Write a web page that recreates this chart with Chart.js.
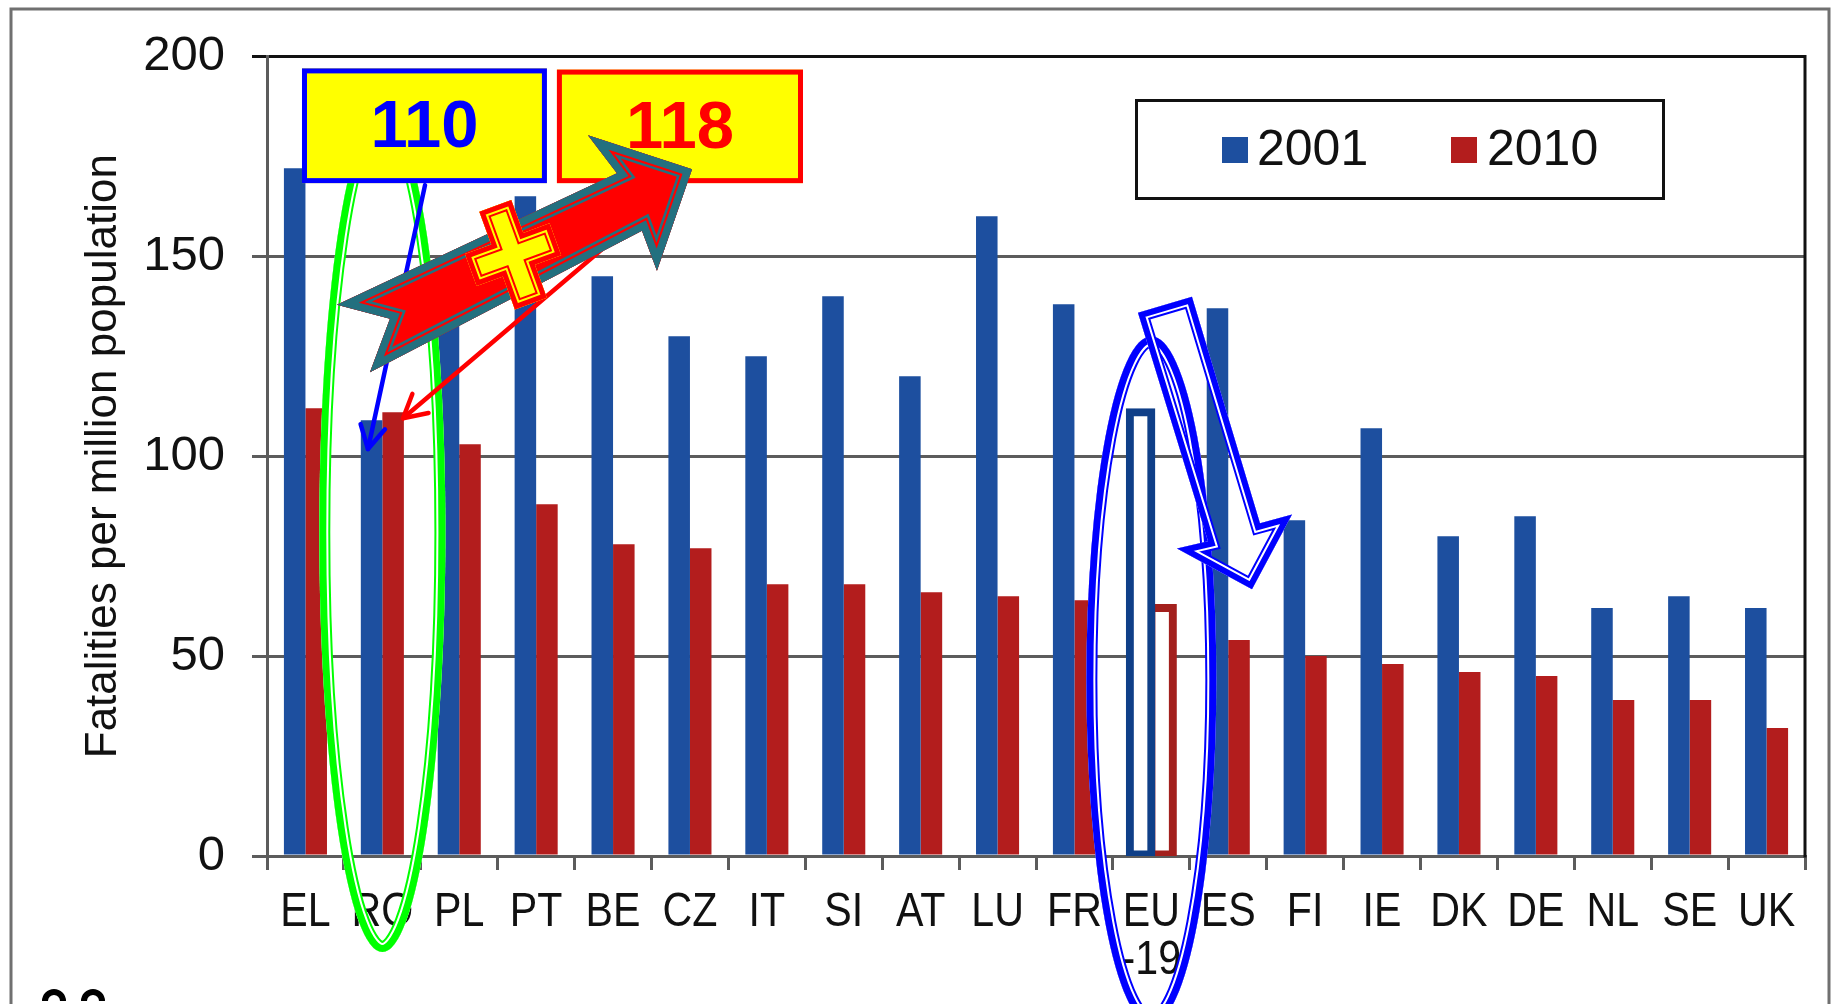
<!DOCTYPE html>
<html lang="en">
<head>
<meta charset="UTF-8">
<title>Fatalities per million population, 2001 and 2010</title>
<script src="https://cdn.jsdelivr.net/npm/chart.js"></script>
<style>
  html, body { margin: 0; padding: 0; background: #ffffff; }
  canvas { display: block; }
</style>
</head>
<body>
<canvas id="fatalitiesChart" width="1834" height="1004"></canvas>
<script>
// data
const countries = ['EL', 'RO', 'PL', 'PT', 'BE', 'CZ', 'IT', 'SI', 'AT', 'LU', 'FR', ['EU', '-19'], 'ES', 'FI', 'IE', 'DK', 'DE', 'NL', 'SE', 'UK'];
const fatalities2001 = [172, 109, 143, 165, 145, 130, 125, 140, 120, 160, 138, 111, 137, 84, 107, 80, 85, 62, 65, 62];
const fatalities2010 = [112, 111, 103, 88, 78, 77, 68, 68, 66, 65, 64, 62, 54, 50, 48, 46, 45, 39, 39, 32];
const seriesLabels = ['2001', '2010'];
const yTicks = [0, 50, 100, 150, 200];
const euIndex = 11;

// hand-drawn overlay, positions given as [category index, value]
const callouts = [
    { text: '110', from: [-0.045, 197], to: [3.14, 168.3], color: '#0000ff' },
    { text: '118', from: [3.27, 196.7], to: [6.47, 168.3], color: '#ff0000' }
];
const greenRing = { center: [1.0, 81], rx: 0.82, ry: 105 };
const blueRing = { center: [11.0, 44], rx: 0.845, ry: 86 };
const thinArrows = [
    { from: [1.555, 167.8], to: [0.813, 101.8], color: '#0000ff' },
    { from: [4.61, 164.1], to: [1.269, 109.5], color: '#ff0000' }
];
const bigArrow = [[0.41, 137.9], [4.051, 170.8], [3.674, 180.3], [5.027, 171.8], [4.571, 146.4], [4.376, 156.4], [0.839, 121.0], [1.099, 134.4]];
const plusAt = [2.70, 150.4];
const hollowArrow = [[10.826, 135.9], [11.528, 139.9], [12.413, 83.2], [12.829, 85.4], [12.309, 66.7], [11.333, 76.9], [11.737, 78.7]];

const BLUE = '#1d4f9f';
const RED = '#b31d1d';
const NAVY = '#0f3f88';
const DARKRED = '#a3201d';
const GRID = '#5c5c5c';
const SANS = "'Liberation Sans', Arial, Helvetica, sans-serif";

const isEU = c => c.dataIndex === euIndex;

// fills a shape and draws its outline as layered bands kept inside the shape
function layered(ctx, buildPath, fill, bands) {
    ctx.save();
    buildPath();
    if (fill) { ctx.fillStyle = fill; ctx.fill(); }
    ctx.clip();
    bands.forEach(([color, width]) => {
        buildPath();
        ctx.strokeStyle = color;
        ctx.lineWidth = width;
        ctx.lineJoin = 'miter';
        ctx.stroke();
    });
    ctx.restore();
}

function thinArrow(ctx, p0, p1, color) {
    ctx.save();
    ctx.strokeStyle = color;
    ctx.lineWidth = 4.5;
    ctx.lineCap = 'round';
    ctx.lineJoin = 'round';
    ctx.beginPath();
    ctx.moveTo(p0[0], p0[1]);
    ctx.lineTo(p1[0], p1[1]);
    ctx.stroke();
    const ang = Math.atan2(p1[1] - p0[1], p1[0] - p0[0]);
    const len = 26;
    ctx.beginPath();
    ctx.moveTo(p1[0] - len * Math.cos(ang - 0.5), p1[1] - len * Math.sin(ang - 0.5));
    ctx.lineTo(p1[0], p1[1]);
    ctx.lineTo(p1[0] - len * Math.cos(ang + 0.5), p1[1] - len * Math.sin(ang + 0.5));
    ctx.stroke();
    ctx.restore();
}

// category labels in a narrow face (squeezed horizontally like the original)
const narrowLabels = {
    id: 'narrowLabels',
    afterDatasetsDraw(chart) {
        const { ctx, chartArea: a, scales: { x } } = chart;
        ctx.save();
        ctx.fillStyle = '#111';
        ctx.font = '49px ' + SANS;
        ctx.textAlign = 'center';
        ctx.textBaseline = 'middle';
        chart.data.labels.forEach((lab, i) => {
            const lines = Array.isArray(lab) ? lab : [lab];
            const cx = x.getPixelForTick(i);
            lines.forEach((line, j) => {
                ctx.save();
                ctx.translate(cx, a.bottom + 56 + j * 48);
                ctx.scale(0.84, 1);
                ctx.fillText(line, 0, 0);
                ctx.restore();
            });
        });
        ctx.restore();
    }
};

const overlay = {
    id: 'overlay',
    afterDraw(chart) {
        const { ctx, chartArea: a, scales: { x, y } } = chart;
        const P = p => [x.getPixelForValue(p[0]), y.getPixelForValue(p[1])];
        const cw = x.getPixelForValue(1) - x.getPixelForValue(0);
        const uh = y.getPixelForValue(0) - y.getPixelForValue(1);

        ctx.save();
        // plot border on the right
        ctx.strokeStyle = '#111';
        ctx.lineWidth = 3;
        ctx.beginPath();
        ctx.moveTo(a.right, a.top - 1.5);
        ctx.lineTo(a.right, a.bottom + 1.5);
        ctx.stroke();

        // legend
        ctx.fillStyle = '#fff';
        ctx.fillRect(1135, 99, 530, 101);
        ctx.strokeStyle = '#111';
        ctx.lineWidth = 3;
        ctx.strokeRect(1136.5, 100.5, 527, 98);
        ctx.font = '50px ' + SANS;
        ctx.textBaseline = 'alphabetic';
        ctx.textAlign = 'left';
        [[BLUE, 1222, 1257], [RED, 1451, 1487]].forEach(([col, sx, tx], i) => {
            ctx.fillStyle = col;
            ctx.fillRect(sx, 137, 26, 26);
            ctx.fillStyle = '#111';
            ctx.fillText(chart.data.datasets[i].label, tx, 165);
        });

        // rings
        [[greenRing, '#00ff00'], [blueRing, '#0000ff']].forEach(([r, col]) => {
            const c = P(r.center);
            layered(ctx, () => {
                ctx.beginPath();
                ctx.ellipse(c[0], c[1], r.rx * cw, r.ry * uh, 0, 0, Math.PI * 2);
            }, null, [[col, 22], ['#ffffff', 18], [col, 14]]);
        });

        // yellow callout boxes
        callouts.forEach(b => {
            const p0 = P(b.from), p1 = P(b.to);
            ctx.fillStyle = '#ffff00';
            ctx.fillRect(p0[0], p0[1], p1[0] - p0[0], p1[1] - p0[1]);
            ctx.strokeStyle = b.color;
            ctx.lineWidth = 5;
            ctx.strokeRect(p0[0] + 2.5, p0[1] + 2.5, p1[0] - p0[0] - 5, p1[1] - p0[1] - 5);
            ctx.fillStyle = b.color;
            ctx.font = 'bold 67px ' + SANS;
            ctx.textAlign = 'center';
            ctx.textBaseline = 'middle';
            ctx.fillText(b.text, (p0[0] + p1[0]) / 2, (p0[1] + p1[1]) / 2 + 3);
        });

        thinArrows.forEach(t => thinArrow(ctx, P(t.from), P(t.to), t.color));

        // big notched red arrow
        const pts = bigArrow.map(P);
        layered(ctx, () => {
            ctx.beginPath();
            pts.forEach((p, i) => i ? ctx.lineTo(p[0], p[1]) : ctx.moveTo(p[0], p[1]));
            ctx.closePath();
        }, '#ff0000', [['#23707f', 24], ['#ff0000', 19], ['#23707f', 15]]);

        // yellow plus on the arrow
        const pc = P(plusAt);
        ctx.save();
        ctx.translate(pc[0], pc[1]);
        ctx.rotate(-20 * Math.PI / 180);
        const W = 17, LV = 52, LH = 45;
        const plus = [[-W, -LV], [W, -LV], [W, -W], [LH, -W], [LH, W], [W, W], [W, LV], [-W, LV], [-W, W], [-LH, W], [-LH, -W], [-W, -W]];
        layered(ctx, () => {
            ctx.beginPath();
            plus.forEach((p, i) => i ? ctx.lineTo(p[0], p[1]) : ctx.moveTo(p[0], p[1]));
            ctx.closePath();
        }, '#ffff00', [['#ff0000', 18], ['#ffff00', 14], ['#ff0000', 10]]);
        ctx.restore();

        // hollow blue arrow
        const hp = hollowArrow.map(P);
        layered(ctx, () => {
            ctx.beginPath();
            hp.forEach((p, i) => i ? ctx.lineTo(p[0], p[1]) : ctx.moveTo(p[0], p[1]));
            ctx.closePath();
        }, null, [['#0000ff', 20], ['#ffffff', 16], ['#0000ff', 12]]);

        // outer frame of the picture
        ctx.strokeStyle = '#707070';
        ctx.lineWidth = 3;
        ctx.beginPath();
        ctx.moveTo(11, 1004);
        ctx.lineTo(11, 9);
        ctx.lineTo(1829, 9);
        ctx.lineTo(1829, 1004);
        ctx.stroke();

        // cut-off marks at the bottom left
        ctx.strokeStyle = '#000';
        ctx.lineWidth = 6;
        [54, 93].forEach(cx => {
            ctx.beginPath();
            ctx.arc(cx, 1001, 9, Math.PI, Math.PI * 2);
            ctx.stroke();
        });
        ctx.restore();
    }
};

new Chart(document.getElementById('fatalitiesChart').getContext('2d'), {
    type: 'bar',
    data: {
        labels: countries,
        datasets: [
            {
                label: seriesLabels[0],
                data: fatalities2001,
                backgroundColor: c => isEU(c) ? '#ffffff' : BLUE,
                borderColor: c => isEU(c) ? NAVY : BLUE,
                borderWidth: c => isEU(c) ? 8 : 0,
                borderSkipped: c => isEU(c) ? false : 'start',
                inflateAmount: c => isEU(c) ? 4 : 'auto'
            },
            {
                label: seriesLabels[1],
                data: fatalities2010,
                backgroundColor: c => isEU(c) ? '#ffffff' : RED,
                borderColor: c => isEU(c) ? DARKRED : RED,
                borderWidth: c => isEU(c) ? 8 : 0,
                borderSkipped: c => isEU(c) ? false : 'start',
                inflateAmount: c => isEU(c) ? 4 : 'auto'
            }
        ]
    },
    options: {
        responsive: false,
        animation: false,
        devicePixelRatio: 1,
        events: [],
        categoryPercentage: 0.56,
        barPercentage: 1.0,
        layout: { padding: { left: 20, top: 53, right: 29, bottom: 0 } },
        plugins: {
            legend: { display: false },
            tooltip: { enabled: false }
        },
        scales: {
            x: {
                afterFit: s => { s.height = 148; },
                grid: { drawOnChartArea: false, offset: true, tickLength: 14, color: GRID, lineWidth: 3 },
                border: { color: GRID, width: 3 },
                ticks: { display: false, autoSkip: false, maxRotation: 0 }
            },
            y: {
                min: yTicks[0],
                max: yTicks[yTicks.length - 1],
                afterFit: s => { s.width = 247; },
                grid: {
                    color: c => c.tick && c.tick.value === yTicks[yTicks.length - 1] ? '#111' : GRID,
                    lineWidth: 3,
                    tickLength: 15
                },
                border: { color: GRID, width: 3 },
                ticks: {
                    stepSize: yTicks[1] - yTicks[0],
                    padding: 27,
                    color: '#111',
                    font: { family: SANS, size: 49 }
                },
                title: {
                    display: true,
                    text: 'Fatalities per million population',
                    color: '#111',
                    font: { family: SANS, size: 44 },
                    padding: { top: 57, bottom: 0 }
                }
            }
        }
    },
    plugins: [narrowLabels, overlay]
});
</script>
</body>
</html>
